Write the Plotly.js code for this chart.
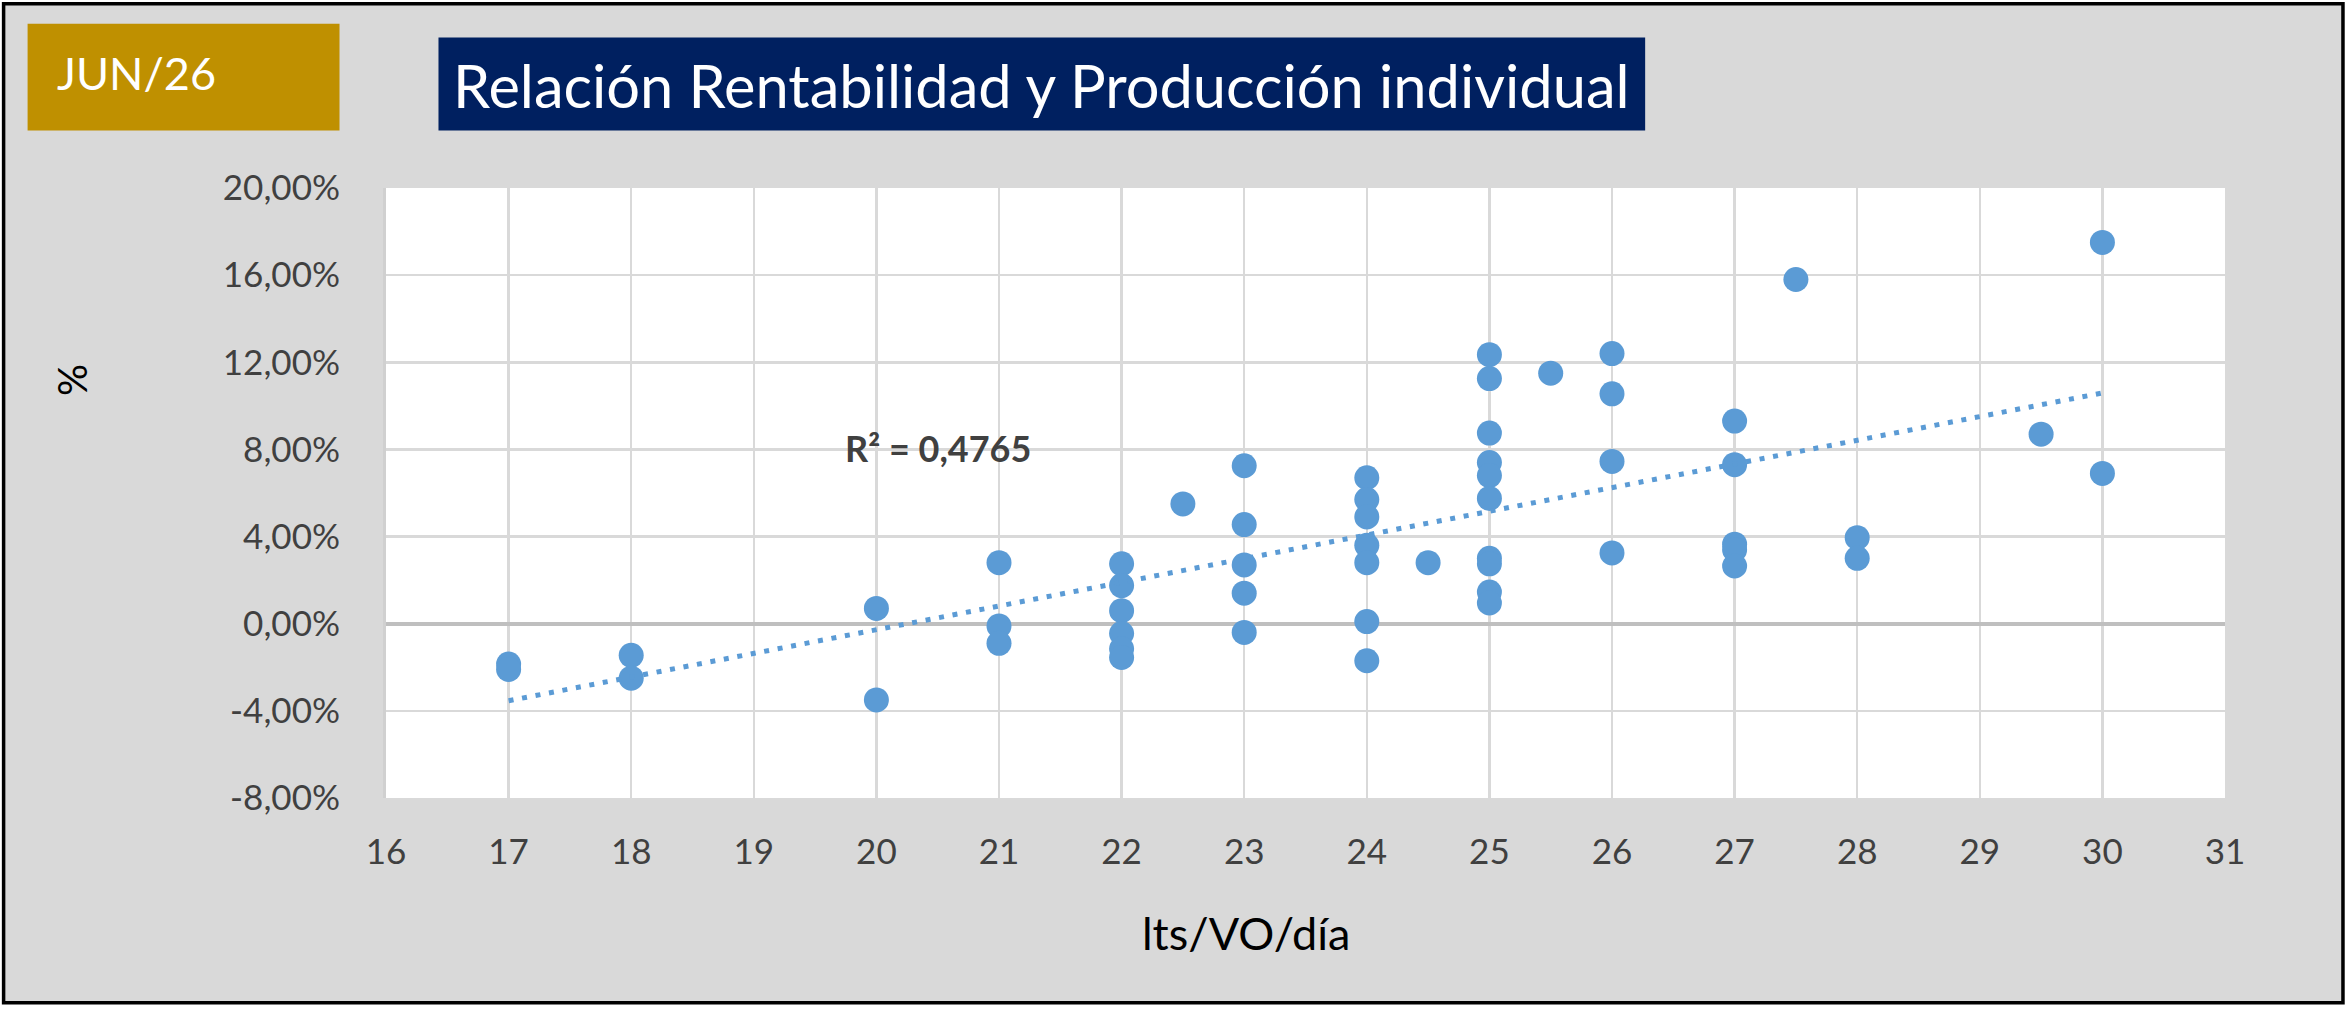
<!DOCTYPE html>
<html>
<head>
<meta charset="utf-8">
<script src="https://cdn.plot.ly/plotly-3.0.1.min.js"></script>
<style>
html,body{margin:0;padding:0;background:#ffffff;}
#chart{width:2351px;height:1012px;}
</style>
</head>
<body>
<div id="chart"></div>
<script>
// ---- data ----
const prodX = [
  17, 17,
  18, 18,
  20, 20,
  21, 21, 21,
  22, 22, 22, 22, 22, 22,
  22.5,
  23, 23, 23, 23, 23,
  24, 24, 24, 24, 24, 24, 24,
  24.5,
  25, 25, 25, 25, 25, 25, 25, 25, 25, 25,
  25.5,
  26, 26, 26, 26,
  27, 27, 27, 27, 27,
  27.5,
  28, 28,
  29.5,
  30, 30
];
const rentY = [
  -1.85, -2.1,
  -1.45, -2.5,
  0.7, -3.5,
  2.8, -0.1, -0.9,
  2.75, 1.75, 0.6, -0.45, -1.15, -1.55,
  5.5,
  7.25, 4.55, 2.7, 1.4, -0.4,
  6.7, 5.7, 4.9, 3.6, 2.8, 0.1, -1.7,
  2.8,
  12.35, 11.25, 8.75, 7.4, 6.8, 5.75, 3.0, 2.75, 1.45, 0.95,
  11.5,
  12.4, 10.55, 7.45, 3.25,
  9.3, 7.3, 3.65, 3.4, 2.65,
  15.8,
  3.95, 3.0,
  8.7,
  17.5, 6.9
];
const yTickVals = [-8, -4, 0, 4, 8, 12, 16, 20];
const yTickText = ['-8,00%', '-4,00%', '0,00%', '4,00%', '8,00%', '12,00%', '16,00%', '20,00%'];
const xTickVals = [16, 17, 18, 19, 20, 21, 22, 23, 24, 25, 26, 27, 28, 29, 30, 31];
const periodLabel = 'JUN/26';
const chartTitle = 'Relación Rentabilidad y Producción individual';
const xTitle = 'lts/VO/día';
const yTitle = '%';
const r2Label = 'R² = 0,4765';

// ---- linear trend (least squares over the data) ----
const n = prodX.length;
let sx = 0, sy = 0, sxx = 0, sxy = 0;
for (let i = 0; i < n; i++) { sx += prodX[i]; sy += rentY[i]; sxx += prodX[i]*prodX[i]; sxy += prodX[i]*rentY[i]; }
const slope = (n*sxy - sx*sy) / (n*sxx - sx*sx);
const intercept = (sy - slope*sx) / n;
const xMin = Math.min(...prodX), xMax = Math.max(...prodX);
const trendX = [xMin, xMax];
const trendY = trendX.map(v => intercept + slope*v);

// ---- geometry helpers ----
const W = 2351, H = 1012, L = 385.5, R = 126, T = 187.5, B = 214;
const PW = W - L - R, PH = H - T - B;
const px = x => (x - L) / PW;
const py = y => (H - B - y) / PH;

const FONT = 'Lato, "Open Sans", sans-serif';

const traces = [
  {
    type: 'scatter', mode: 'markers', x: prodX, y: rentY,
    marker: { size: 25, color: '#5b9bd5', line: { width: 0 } },
    hoverinfo: 'skip', showlegend: false
  },
  {
    type: 'scatter', mode: 'lines', x: trendX, y: trendY,
    line: { color: '#5b9bd5', width: 5, dash: '5px,8.7px' },
    hoverinfo: 'skip', showlegend: false
  }
];

const layout = {
  width: W, height: H,
  margin: { l: L, r: R, t: T, b: B, pad: 0 },
  paper_bgcolor: '#ffffff',
  plot_bgcolor: '#ffffff',
  showlegend: false,
  font: { family: FONT, color: '#404040' },
  xaxis: {
    range: [16, 31], tickvals: xTickVals, ticktext: xTickVals.map(String),
    showgrid: true, gridcolor: '#d9d9d9', gridwidth: 2.5,
    zeroline: false, showline: false, ticks: '',
    ticklabelstandoff: 30,
    tickfont: { family: FONT, size: 35, color: '#404040' },
    fixedrange: true
  },
  yaxis: {
    range: [-8, 20], tickvals: yTickVals, ticktext: yTickText,
    showgrid: true, gridcolor: '#d9d9d9', gridwidth: 2.5,
    zeroline: true, zerolinecolor: '#bfbfbf', zerolinewidth: 4,
    showline: true, linecolor: '#d0d0d0', linewidth: 3,
    ticks: '', ticklabelstandoff: 36,
    tickfont: { family: FONT, size: 35, color: '#404040' },
    fixedrange: true
  },
  shapes: [
    { type: 'rect', xref: 'paper', yref: 'paper', x0: px(3), x1: px(2343), y0: py(1003), y1: py(3),
      fillcolor: '#d9d9d9', line: { color: '#000000', width: 3.5 }, layer: 'below' },
    { type: 'rect', xref: 'paper', yref: 'paper', x0: 0, x1: 1, y0: 0, y1: 1,
      fillcolor: '#ffffff', line: { width: 0 }, layer: 'below' },
    { type: 'rect', xref: 'paper', yref: 'paper', x0: px(27), x1: px(339), y0: py(130), y1: py(23),
      fillcolor: '#bf9000', line: { width: 0 }, layer: 'below' },
    { type: 'rect', xref: 'paper', yref: 'paper', x0: px(438), x1: px(1645), y0: py(130), y1: py(37),
      fillcolor: '#002060', line: { width: 0 }, layer: 'below' }
  ],
  annotations: [
    { xref: 'paper', yref: 'paper', x: px(54), y: py(72), xanchor: 'left', yanchor: 'middle',
      text: periodLabel, showarrow: false, font: { family: FONT, size: 45, color: '#ffffff' } },
    { xref: 'paper', yref: 'paper', x: px(451), y: py(84), xanchor: 'left', yanchor: 'middle',
      text: chartTitle, showarrow: false, font: { family: FONT, size: 59.6, color: '#ffffff' } },
    { xref: 'paper', yref: 'paper', x: px(72), y: py(380), xanchor: 'center', yanchor: 'middle',
      text: yTitle, textangle: -90, showarrow: false, font: { family: FONT, size: 40, color: '#000000' } },
    { xref: 'paper', yref: 'paper', x: px(1246), y: py(933), xanchor: 'center', yanchor: 'middle',
      text: xTitle, showarrow: false, font: { family: FONT, size: 45, color: '#000000' } },
    { xref: 'x', yref: 'y', x: 20.5, y: 8.05, xanchor: 'center', yanchor: 'middle',
      text: '<b>' + r2Label + '</b>', showarrow: false, font: { family: FONT, size: 36, color: '#404040' } }
  ]
};

Plotly.newPlot('chart', traces, layout, { staticPlot: true, displayModeBar: false });
</script>
</body>
</html>
